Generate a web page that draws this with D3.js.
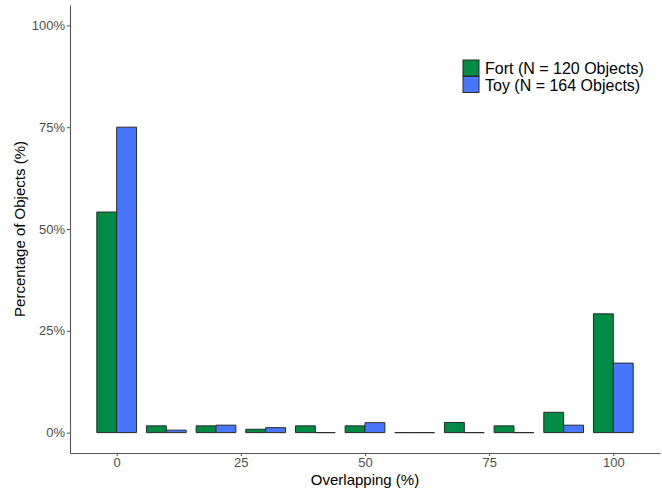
<!DOCTYPE html>
<html>
<head>
<meta charset="utf-8">
<script src="https://cdn.jsdelivr.net/npm/d3@7"></script>
<style>
  body { margin: 0; background: #fff; }
  text { font-family: "Liberation Sans", Arial, sans-serif; }
</style>
</head>
<body>
<script>
// bins of overlap (centre of each 10%-wide bin)
const bins = [0, 10, 20, 30, 40, 50, 60, 70, 80, 90, 100];
// percentage of objects per bin
const fortPct = [54.17, 1.67, 1.67, 0.83, 1.67, 1.67, 0, 2.5, 1.67, 5.0, 29.17];
const toyPct = [75.0, 0.61, 1.83, 1.22, 0, 2.44, 0, 0, 0, 1.83, 17.07];
const seriesNames = ["Fort (N = 120 Objects)", "Toy (N = 164 Objects)"];
const seriesColors = ["#008B45", "#4876FF"];
const xTicks = [0, 25, 50, 75, 100];
const yTicks = [0, 25, 50, 75, 100];

const W = 662, H = 489;
const panel = {left: 70, right: 660, top: 5, bottom: 453};

const svg = d3.select("body").append("svg")
    .attr("width", W)
    .attr("height", H);

const x = d3.scaleLinear().domain([-9.4, 109.4]).range([panel.left, panel.right]);
const y = d3.scaleLinear().domain([-5, 105]).range([panel.bottom, panel.top]);

const barW = 4; // each dodged bar is 4 units wide, group 8

const series = [fortPct, toyPct];
series.forEach(function (vals, si) {
    svg.append("g")
        .selectAll("path")
        .data(bins.map((b, i) => ({bin: b, v: vals[i]})))
        .enter().append("path")
        .attr("d", function (d) {
            let x0 = x(d.bin - barW + si * barW), x1 = x(d.bin + si * barW);
            let y0 = y(0), y1 = y(d.v);
            return "M" + x0 + "," + y0 + "H" + x1 + "V" + y1 + "H" + x0 + "Z";
        })
        .attr("fill", seriesColors[si])
        .attr("stroke", "#2a2a2a")
        .attr("stroke-width", 1);
});

// axes
const xAxis = svg.append("g")
    .attr("transform", "translate(0," + panel.bottom + ")")
    .call(d3.axisBottom(x).tickValues(xTicks).tickSize(3).tickSizeOuter(0)
        .tickPadding(2).tickFormat(d3.format("d")));
const yAxis = svg.append("g")
    .attr("transform", "translate(" + panel.left + ",0)")
    .call(d3.axisLeft(y).tickValues(yTicks).tickSize(3).tickSizeOuter(0)
        .tickPadding(2).tickFormat(d => d + "%"));

[xAxis, yAxis].forEach(function (a) {
    a.select(".domain").attr("stroke", "#555").attr("stroke-width", 1.1);
    a.selectAll(".tick line").attr("stroke", "#555");
    a.selectAll(".tick text").attr("fill", "#4D4D4D").style("font-size", "13px");
});

// axis titles
svg.append("text")
    .attr("x", (panel.left + panel.right) / 2)
    .attr("y", 485)
    .attr("text-anchor", "middle")
    .style("font-size", "15px")
    .text("Overlapping (%)");

svg.append("text")
    .attr("transform", "translate(25," + ((panel.top + panel.bottom) / 2) + ") rotate(-90)")
    .attr("text-anchor", "middle")
    .style("font-size", "15px")
    .text("Percentage of Objects (%)");

// legend
const legend = svg.append("g").attr("transform", "translate(463,60)");
seriesNames.forEach(function (name, i) {
    legend.append("rect")
        .attr("x", 0)
        .attr("y", i * 16.5)
        .attr("width", 16)
        .attr("height", 16)
        .attr("fill", seriesColors[i])
        .attr("stroke", "#2a2a2a")
        .attr("stroke-width", 1);
    legend.append("text")
        .attr("x", 22)
        .attr("y", i * 16.5 + 14)
        .style("font-size", "16px")
        .text(name);
});
</script>
</body>
</html>
